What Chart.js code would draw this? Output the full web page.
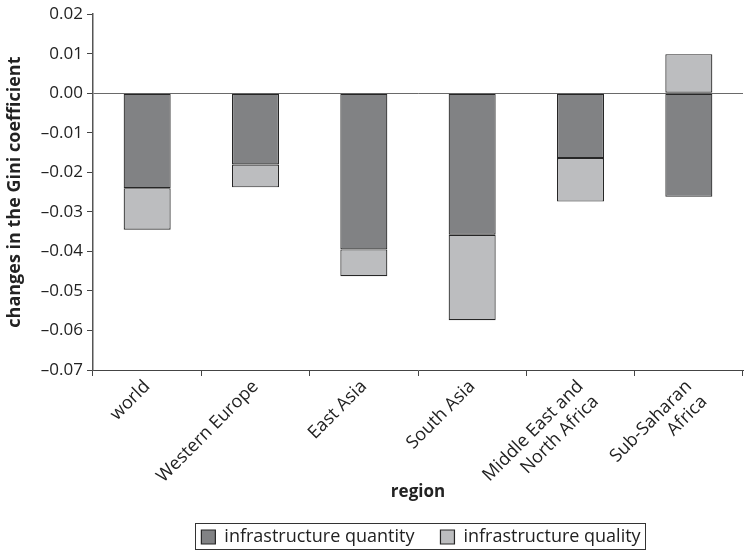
<!DOCTYPE html>
<html>
<head>
<meta charset="utf-8">
<script src="https://cdn.jsdelivr.net/npm/chart.js@4.4.1/dist/chart.umd.min.js"></script>
<style>
  html, body { margin: 0; padding: 0; background: #fff; }
  #wrap { width: 748px; height: 551px; }
</style>
</head>
<body>
<div id="wrap"><canvas id="chart" width="748" height="551"></canvas></div>
<script>
// data
const regions = ['world', 'Western Europe', 'East Asia', 'South Asia',
  ['Middle East and', 'North Africa'], ['Sub-Saharan', 'Africa']];
const quantity = [-0.0240, -0.0180, -0.0395, -0.0358, -0.0164, -0.0262];
const quality  = [-0.0105, -0.0058, -0.0068, -0.0216, -0.0110, 0.0099];
const seriesNames = ['infrastructure quantity', 'infrastructure quality'];

const FONT = "'Open Sans', 'DejaVu Sans', sans-serif";
const INK = '#222';

function fmt(v) {
  if (Math.abs(v) < 1e-9) return '0.00';
  return (v < 0 ? '\u2013' : '') + Math.abs(v).toFixed(2);
}

// legend centred under the plot, with a box round it like the original
const legendBox = {
  id: 'legendBox',
  afterLayout(chart) {
    const lg = chart.legend;
    if (!lg) return;
    const a = chart.chartArea;
    lg.left = a.left + 3;
    lg.right = a.right + 3;
    lg.width = lg.right - lg.left;
    lg.top = 502;
    lg.bottom = 551;
    lg.height = lg.bottom - lg.top;
  },
  afterDraw(chart) {
    const boxes = chart.legend && chart.legend.legendHitBoxes;
    if (!boxes || !boxes.length) return;
    let l = Infinity, r = -Infinity, t = Infinity, b = -Infinity;
    boxes.forEach(h => {
      l = Math.min(l, h.left); r = Math.max(r, h.left + h.width);
      t = Math.min(t, h.top); b = Math.max(b, h.top + h.height);
    });
    const c = chart.ctx;
    c.save();
    c.strokeStyle = '#333';
    c.lineWidth = 1;
    const top = Math.round(t - 5);
    c.strokeRect(Math.round(l - 6) + 0.5, top + 0.5, Math.round(r - l + 11), Math.min(Math.round(b - t + 9), 549 - top));
    c.restore();
  }
};

new Chart(document.getElementById('chart'), {
  type: 'bar',
  data: {
    labels: regions,
    datasets: [
      {
        label: seriesNames[0],
        data: quantity,
        backgroundColor: '#818284',
        borderColor: '#262626',
        borderWidth: 1.2,
        borderSkipped: false
      },
      {
        label: seriesNames[1],
        data: quality,
        backgroundColor: '#bcbdbf',
        borderColor: '#262626',
        borderWidth: 1.2,
        borderSkipped: false
      }
    ]
  },
  options: {
    responsive: false,
    animation: false,
    layout: { padding: { top: 8, right: 5, left: 0, bottom: 2 } },
    datasets: { bar: { categoryPercentage: 1, barPercentage: 0.434 } },
    scales: {
      x: {
        stacked: true,
        grid: { display: true, drawOnChartArea: false, drawTicks: true, tickLength: 6, color: '#444', offset: true },
        border: { display: true, color: '#444', width: 1 },
        ticks: {
          color: INK, font: { family: FONT, size: 18 },
          maxRotation: 45, minRotation: 45, autoSkip: false, padding: 0
        },
        title: {
          display: true, text: 'region', color: INK,
          font: { family: FONT, size: 17, weight: 'bold' },
          padding: { top: 4, bottom: 8 }
        },
        afterFit(scale) { scale.height = 140; }
      },
      y: {
        stacked: true,
        min: -0.07,
        max: 0.02,
        grid: {
          drawOnChartArea: true,
          drawTicks: true,
          tickLength: 6,
          color: ctx => (ctx.tick && Math.abs(ctx.tick.value) < 1e-9) ? '#6a6a6a' : 'rgba(0,0,0,0)',
          tickColor: '#444'
        },
        border: { display: true, color: '#555', width: 1.5 },
        ticks: {
          stepSize: 0.01, color: INK, padding: 4,
          font: { family: FONT, size: 17 },
          callback: v => fmt(v)
        },
        title: {
          display: true, text: 'changes in the Gini coefficient', color: INK,
          font: { family: FONT, size: 18, weight: 'bold' },
          padding: { top: 4, bottom: 0 }
        },
        afterFit(scale) { scale.width = 93; }
      }
    },
    plugins: {
      legend: {
        position: 'bottom',
        maxHeight: 39,
        labels: {
          color: INK, font: { family: FONT, size: 18 },
          boxWidth: 14, boxHeight: 14, padding: 26
        }
      },
      tooltip: { enabled: false }
    }
  },
  plugins: [legendBox]
});
</script>
</body>
</html>
